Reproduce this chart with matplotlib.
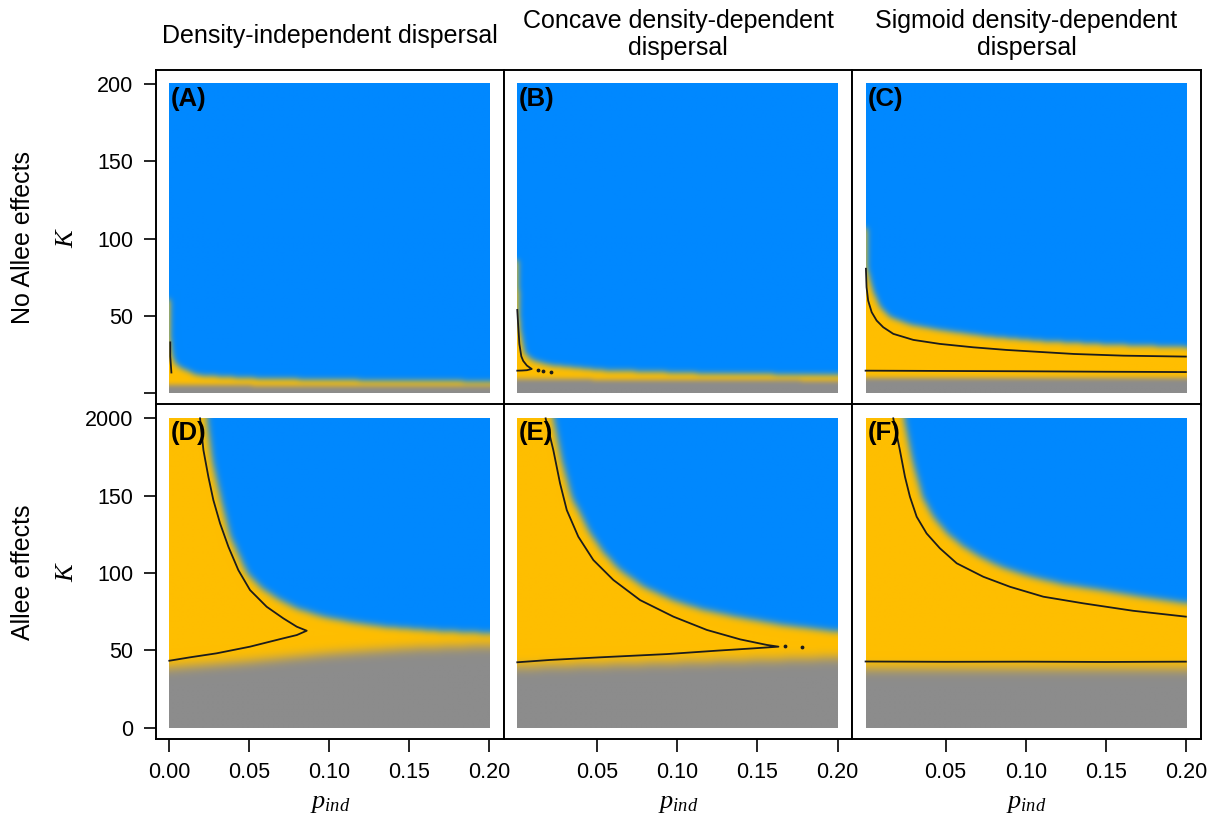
import numpy as np
import matplotlib
matplotlib.use("Agg")
import matplotlib.pyplot as plt

plt.rcParams['font.family'] = ['Liberation Sans', 'DejaVu Sans']
plt.rcParams['mathtext.fontset'] = 'custom'
plt.rcParams['mathtext.it'] = 'Liberation Serif:italic'
plt.rcParams['mathtext.rm'] = 'Liberation Serif'

# ---- data ----
col_titles = [["Density-independent dispersal"],
              ["Concave density-dependent", "dispersal"],
              ["Sigmoid density-dependent", "dispersal"]]
row_labels = ["No Allee effects", "Allee effects"]
tags = ["(A)", "(B)", "(C)", "(D)", "(E)", "(F)"]

# orange -> blue boundary (K where blue takes over), per panel
A_blue_p = [0, 0.0008, 0.002, 0.004, 0.007, 0.0175, 0.05, 0.1, 0.2]
A_blue_K = [77, 35, 24, 19, 16.5, 11.5, 9.5, 8.3, 7.3]
B_blue_p = [0, 0.0017, 0.0048, 0.01, 0.0205, 0.052, 0.114, 0.2]
B_blue_K = [95, 43, 25.5, 21, 18, 14.7, 12.6, 11.5]
C_blue_p = [0, 0.0008, 0.0048, 0.009, 0.015, 0.028, 0.046, 0.075, 0.109, 0.15, 0.2]
C_blue_K = [123, 80, 64.5, 55.5, 49, 44, 40.6, 36.5, 33.5, 31.3, 29.5]
D_blue_p = [0, 0.021, 0.0235, 0.027, 0.032, 0.038, 0.0486, 0.058, 0.069, 0.08, 0.096, 0.115, 0.134, 0.165, 0.2]
D_blue_K = [260, 230, 200, 172, 149, 124, 100, 90, 82.5, 77, 71.8, 68, 65.3, 62.8, 61]
E_blue_p = [0, 0.02, 0.0225, 0.028, 0.034, 0.0454, 0.054, 0.064, 0.079, 0.097, 0.115, 0.135, 0.165, 0.2]
E_blue_K = [260, 225, 200, 172, 149, 126, 113, 102, 91, 82.5, 76.5, 72, 66.5, 62]
F_blue_p = [0, 0.021, 0.0235, 0.029, 0.0352, 0.042, 0.0506, 0.06, 0.0708, 0.085, 0.1027, 0.123, 0.146, 0.172, 0.2]
F_blue_K = [260, 225, 200, 172, 149, 136, 125.6, 117.5, 110.5, 103.5, 97.6, 92.6, 89, 84.5, 80.4]

# grey -> orange boundary
A_gray_p, A_gray_K = [0, 0.2], [5, 4.5]
B_gray_p, B_gray_K = [0, 0.2], [9, 8]
C_gray_p, C_gray_K = [0, 0.2], [9.8, 9.5]
D_gray_p, D_gray_K = [0, 0.05, 0.1, 0.15, 0.2], [39, 43, 48, 51.5, 53.5]
E_gray_p, E_gray_K = [0, 0.1, 0.2], [39.5, 42.5, 45.5]
F_gray_p, F_gray_K = [0, 0.2], [38, 38]

# black threshold lines
A_lines = [([0.0008, 0.0008, 0.0015], [33, 24, 13.5])]
B_lines = [([0, 0.0005, 0.0013, 0.0025, 0.0037, 0.006, 0.009, 0.006, 0.003, 0],
            [54, 45, 32, 24, 21, 18, 15.8, 15, 14.8, 14.7])]
C_lines = [([0.0002, 0.0006, 0.0016, 0.0038, 0.0069, 0.011, 0.0173, 0.0298, 0.0464, 0.0673, 0.088, 0.13, 0.161, 0.2],
            [80.6, 68.7, 60, 52.5, 47.1, 42.8, 38.5, 34.6, 32, 29.8, 28.1, 25.5, 24.4, 23.8]),
           ([0, 0.05, 0.1, 0.15, 0.2], [14.7, 14.5, 14.3, 14.0, 13.8])]
D_lines = [([0.0194, 0.0215, 0.0246, 0.0277, 0.0319, 0.0371, 0.0433, 0.0506, 0.061, 0.0714, 0.0798, 0.086,
             0.0798, 0.0714, 0.0506, 0.0298, 0.0131, 0.0002],
            [200, 179.5, 162.2, 147.2, 132.1, 117, 101.9, 89, 78.2, 70.7, 65.3, 62.7,
             59.9, 57.8, 52.4, 48.1, 45.5, 43.3])]
E_lines = [([0.0177, 0.0225, 0.0267, 0.0309, 0.0381, 0.0475, 0.06, 0.0767, 0.0975, 0.1184, 0.1392, 0.1559, 0.1631,
             0.1475, 0.1246, 0.0934, 0.0517, 0.0204, 0.0],
            [200, 179.5, 158, 140.7, 123.5, 108.4, 95.5, 82.5, 71.8, 63.2, 57.1, 53.5, 52.4,
             51.3, 49.8, 47.6, 45.5, 43.8, 42.3])]
F_lines = [([0.0173, 0.0214, 0.0246, 0.0277, 0.0319, 0.0381, 0.0464, 0.0569, 0.0735, 0.0902, 0.111, 0.136, 0.167, 0.2],
            [200, 179.5, 162.2, 149.3, 136.4, 125.6, 116, 106.3, 97.6, 91.1, 84.7, 80.4, 75.6, 71.8]),
           ([0, 0.05, 0.1, 0.15, 0.2], [42.8, 42.6, 42.7, 42.5, 42.7])]

# stray points near line ends
B_dots_p, B_dots_K = [0.013, 0.016, 0.021], [15, 14.5, 14]
E_dots_p, E_dots_K = [0.167, 0.178], [52.8, 52]

panels = [
    (A_blue_p, A_blue_K, A_gray_p, A_gray_K, A_lines, ([], [])),
    (B_blue_p, B_blue_K, B_gray_p, B_gray_K, B_lines, (B_dots_p, B_dots_K)),
    (C_blue_p, C_blue_K, C_gray_p, C_gray_K, C_lines, ([], [])),
    (D_blue_p, D_blue_K, D_gray_p, D_gray_K, D_lines, ([], [])),
    (E_blue_p, E_blue_K, E_gray_p, E_gray_K, E_lines, (E_dots_p, E_dots_K)),
    (F_blue_p, F_blue_K, F_gray_p, F_gray_K, F_lines, ([], [])),
]

BLUE = np.array([0, 136, 255]) / 255
ORANGE = np.array([255, 190, 0]) / 255
GRAY = np.array([140, 140, 140]) / 255

nx, ny = 320, 308
pc = (np.arange(nx) + 0.5) / nx * 0.2
kc = (np.arange(ny) + 0.5) / ny * 200
KK = np.repeat(kc[:, None], nx, axis=1)


def blur(a, s):
    r = int(3 * s) + 1
    x = np.arange(-r, r + 1)
    k = np.exp(-x ** 2 / (2.0 * s * s))
    k /= k.sum()
    a = np.pad(a, r, mode='edge')
    a = np.apply_along_axis(lambda v: np.convolve(v, k, 'valid'), 0, a)
    a = np.apply_along_axis(lambda v: np.convolve(v, k, 'valid'), 1, a)
    return a


def field(bp, bk, gp, gk, sb, sg):
    U = np.interp(pc, bp, bk)[None, :]
    L = np.interp(pc, gp, gk)[None, :]
    b = blur((KK > U).astype(float), sb)
    a = blur((KK > L).astype(float), sg)
    b = np.minimum(b, a)
    return (1 - a)[..., None] * GRAY + (a - b)[..., None] * ORANGE + b[..., None] * BLUE


W, H = 1217, 818
fig = plt.figure(figsize=(W / 100, H / 100), dpi=100)

lefts = [155.7, 504, 852.3]
wpx = 348.3
tops = [70, 404.3]
hpx = 335

for i, (bp, bk, gp, gk, lines, dots) in enumerate(panels):
    r, c = divmod(i, 3)
    ax = fig.add_axes([lefts[c] / W, 1 - (tops[r] + hpx) / H, wpx / W, hpx / H])
    sb, sg = (3, 2.5) if r == 0 else (3.5, 5.5)
    ax.imshow(field(bp, bk, gp, gk, sb, sg), extent=(0, 0.2, 0, 200), origin='lower',
              aspect='auto', interpolation='bilinear')
    for lp, lk in lines:
        ax.plot(lp, lk, color='#1c1c1c', lw=1.3, solid_joinstyle='round')
    if dots[0]:
        ax.scatter(dots[0], dots[1], s=3, color='#1c1c1c', zorder=3)
    ax.text(0.0012, 198, tags[i], ha='left', va='top', fontsize=18.5, fontweight='bold')
    ax.set_xlim(-0.0083, 0.2092)
    ax.set_ylim(-7.5, 209.1)
    for sp in ax.spines.values():
        sp.set_linewidth(1.4)
    ax.tick_params(direction='out', length=9, width=1.2, pad=7, labelsize=15.5)
    if c == 0:
        ax.set_yticks([0, 50, 100, 150, 200])
        ax.set_yticklabels(['', '50', '100', '150', '200'] if r == 0 else ['0', '50', '100', '150', '2000'])
    else:
        ax.set_yticks([])
    if r == 1:
        if c == 0:
            ax.set_xticks([0, 0.05, 0.1, 0.15, 0.2])
            ax.set_xticklabels(['0.00', '0.05', '0.10', '0.15', '0.20'])
        else:
            ax.set_xticks([0.05, 0.1, 0.15, 0.2])
            ax.set_xticklabels(['0.05', '0.10', '0.15', '0.20'])
    else:
        ax.set_xticks([])

# column titles
for c, t in enumerate(col_titles):
    cx = (lefts[c] + wpx / 2) / W
    if len(t) == 1:
        fig.text(cx, 1 - 43.5 / H, t[0], ha='center', va='baseline', fontsize=18)
    else:
        fig.text(cx, 1 - 28 / H, t[0], ha='center', va='baseline', fontsize=18)
        fig.text(cx, 1 - 55.5 / H, t[1], ha='center', va='baseline', fontsize=18)
    fig.text(cx, 1 - 808 / H, '$p_{ind}$', ha='center', va='baseline', fontsize=19)

# row labels
for r, lab in enumerate(row_labels):
    cy = 1 - (tops[r] + hpx / 2) / H
    fig.text(23 / W, cy, lab, rotation=90, ha='center', va='center', fontsize=18)
    fig.text(66 / W, cy, '$K$', rotation=90, ha='center', va='center', fontsize=19)

fig.savefig('out.png', dpi=100)
